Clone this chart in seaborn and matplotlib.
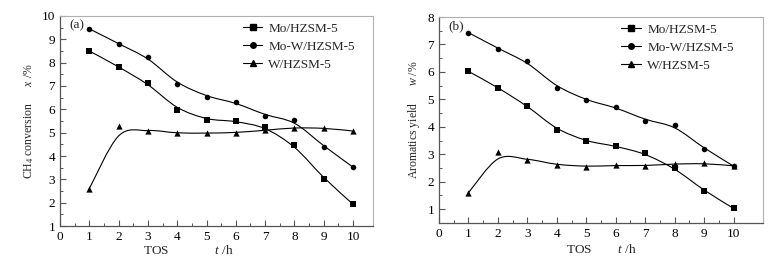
import numpy as np
import pandas as pd
import seaborn as sns
import matplotlib
matplotlib.use('Agg')
import matplotlib.pyplot as plt
from matplotlib.path import Path
from matplotlib.patches import PathPatch
from matplotlib.lines import Line2D
from matplotlib.ticker import FixedLocator

# data
tos = [1, 2, 3, 4, 5, 6, 7, 8, 9, 10]
series_names = ['Mo/HZSM-5', 'Mo-W/HZSM-5', 'W/HZSM-5']

conv_mo = [8.50, 7.82, 7.12, 5.98, 5.55, 5.50, 5.25, 4.47, 3.03, 1.93]
conv_mow = [9.45, 8.80, 8.25, 7.07, 6.55, 6.30, 5.72, 5.55, 4.40, 3.52]
conv_w = [2.60, 5.30, 5.07, 4.98, 4.98, 5.00, 5.10, 5.22, 5.20, 5.07]

yield_mo = [6.02, 5.43, 4.77, 3.88, 3.47, 3.30, 3.03, 2.50, 1.67, 1.03]
yield_mow = [7.43, 6.85, 6.38, 5.43, 4.97, 4.72, 4.23, 4.07, 3.20, 2.57]
yield_w = [1.60, 3.10, 2.80, 2.62, 2.55, 2.60, 2.58, 2.65, 2.67, 2.58]

sns.set_theme(style='ticks')
plt.rcParams['font.family'] = ['Liberation Serif', 'DejaVu Serif']
plt.rcParams['mathtext.fontset'] = 'custom'
plt.rcParams['mathtext.rm'] = 'Liberation Serif'
plt.rcParams['mathtext.it'] = 'Liberation Serif:italic'
FS = 9.5

markers = {'Mo/HZSM-5': 's', 'Mo-W/HZSM-5': 'o', 'W/HZSM-5': '^'}
msizes = {'Mo/HZSM-5': 4.2, 'Mo-W/HZSM-5': 4.0, 'W/HZSM-5': 4.5}


def smooth_path(x, y):
    # lightly smoothed Catmull-Rom curve, drawn as cubic bezier
    y = np.asarray(y, float)
    ys = y.copy()
    ys[1:-1] = 0.15 * y[:-2] + 0.7 * y[1:-1] + 0.15 * y[2:]
    p = np.column_stack([x, ys]).astype(float)
    p = np.vstack([p[0], p, p[-1]])
    verts = [tuple(p[1])]
    codes = [Path.MOVETO]
    for i in range(1, len(p) - 2):
        c1 = p[i] + (p[i + 1] - p[i - 1]) / 6.0
        c2 = p[i + 1] - (p[i + 2] - p[i]) / 6.0
        verts += [tuple(c1), tuple(c2), tuple(p[i + 1])]
        codes += [Path.CURVE4] * 3
    return Path(verts, codes)


def draw_panel(ax, values, tag, xlabel, xlab_pos, ylabel, ylim, xlim, leg_x):
    df = pd.DataFrame({
        'TOS': tos * 3,
        'val': sum(values, []),
        'cat': sum([[n] * len(tos) for n in series_names], []),
    })
    for name, vals in zip(series_names, values):
        ax.add_patch(PathPatch(smooth_path(tos, vals), facecolor='none',
                               edgecolor='black', lw=0.8))
        sub = df[df['cat'] == name]
        sns.scatterplot(data=sub, x='TOS', y='val', marker=markers[name],
                        color='black', s=msizes[name] ** 2, linewidth=0,
                        ax=ax, legend=False, zorder=3)
    ax.set_xlim(*xlim)
    ax.set_ylim(*ylim)
    ax.xaxis.set_major_locator(FixedLocator(np.arange(0, 11, 1)))
    ax.xaxis.set_minor_locator(FixedLocator(np.arange(0.5, 10, 1)))
    ax.yaxis.set_major_locator(FixedLocator(np.arange(1, ylim[1] + 0.1, 1)))
    ax.yaxis.set_minor_locator(FixedLocator(np.arange(0.5, ylim[1], 0.5)))
    ax.tick_params(which='both', direction='in', colors='#555555',
                   labelcolor='black', labelsize=FS, pad=3.5)
    ax.tick_params(which='major', length=4, width=0.8)
    ax.tick_params(which='minor', length=2.5, width=0.7)
    for s in ['left', 'bottom']:
        ax.spines[s].set_color('#555555')
        ax.spines[s].set_linewidth(0.9)
    for s in ['top', 'right']:
        ax.spines[s].set_color('#b0b0b0')
        ax.spines[s].set_linewidth(0.8)
    ax.set_xlabel(xlabel, fontsize=FS, labelpad=0)
    ax.xaxis.set_label_coords(xlab_pos[0], xlab_pos[1], transform=ax.transAxes)
    ax.xaxis.label.set_va('center')
    ax.set_ylabel(ylabel, fontsize=8.5, labelpad=4)
    ax.text(0.03, 0.955, tag, transform=ax.transAxes, fontsize=FS,
            va='center', ha='left')
    handles = [Line2D([], [], color='black', lw=0.8, marker=markers[n],
                      markersize=msizes[n]) for n in series_names]
    ax.legend(handles, series_names, loc='upper left',
              bbox_to_anchor=(leg_x, 0.98), frameon=False, fontsize=FS,
              handlelength=1.5, handletextpad=0.45, labelspacing=0.42,
              borderpad=0.2, borderaxespad=0.0)


fig = plt.figure(figsize=(7.82, 2.58), dpi=100)
ax1 = fig.add_axes([0.0767, 0.124, 0.4003, 0.814])
ax2 = fig.add_axes([0.5614, 0.136, 0.4143, 0.798])

draw_panel(ax1, [conv_mo, conv_mow, conv_w], '(a)',
           r'TOS              $t$ /h', (0.41, -0.115),
           r'CH$_4$ conversion      $x$ /%', (1, 10), (0, 10.68), 0.575)
draw_panel(ax2, [yield_mo, yield_mow, yield_w], '(b)',
           r'TOS        $t$ /h', (0.5, -0.13),
           r'Aromatics yield      $w$ /%', (0.5, 8), (0, 11.0), 0.555)

fig.savefig('out.png', dpi=100)
